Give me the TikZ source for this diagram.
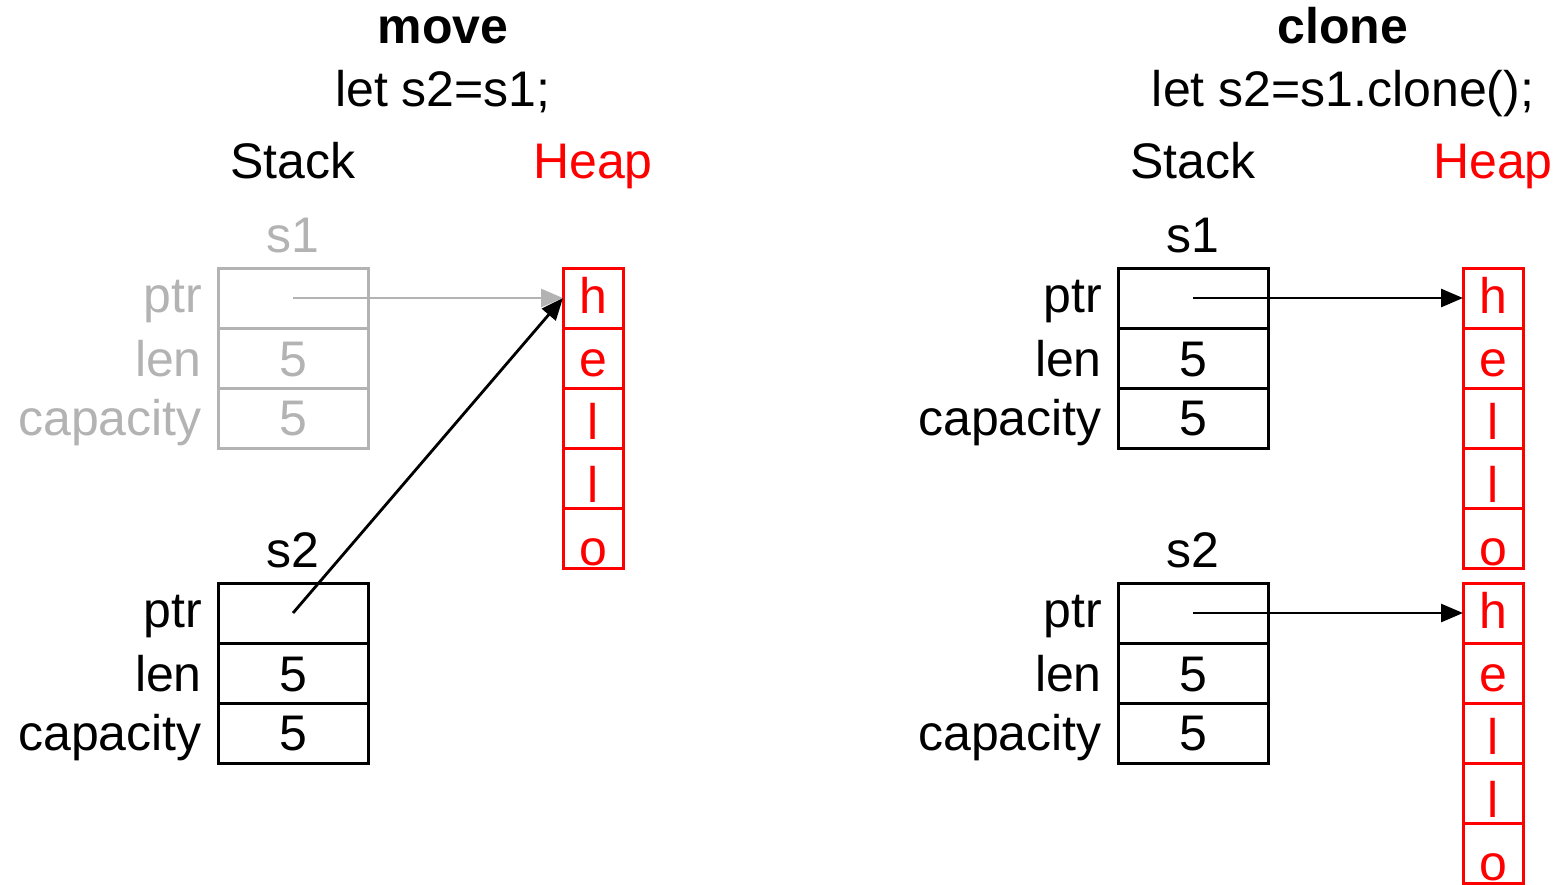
\documentclass[tikz,border=0pt]{standalone}
\usepackage{fontspec}
\setmainfont{Liberation Sans}
\usetikzlibrary{arrows.meta}
\definecolor{faded}{RGB}{179,179,179}
\definecolor{heapred}{RGB}{255,0,0}
\begin{document}
\begin{tikzpicture}[x=1pt,y=-1pt,
  font=\fontsize{50}{60}\selectfont,
  cell/.style={draw, line width=3pt, minimum width=150pt, minimum height=60pt,
               inner sep=0pt, outer sep=0pt},
  hcell/.style={draw=heapred, line width=3pt, minimum width=60pt, minimum height=60pt,
               inner sep=0pt, outer sep=0pt},
  txt/.style={anchor=base, inner sep=0pt},
  lbl/.style={anchor=base east, inner sep=0pt},
  htxt/.style={anchor=base, inner sep=0pt, text=heapred},
  ptrarrow/.style={line width=2.8pt, -{Triangle[length=22pt,width=18pt]}},
]
\useasboundingbox (0,0) rectangle (1562,884);

% ---------------- move ----------------
\node[txt, font=\fontsize{50}{60}\selectfont\bfseries] (mtitle) at (443,43) {move};
\node[txt] (mcode) at (443,106) {let s2=s1;};
\node[txt] (mstack) at (293,178) {Stack};
\node[txt, text=heapred] (mheap) at (593,178) {Heap};

% s1 (moved-from, faded)
\node[txt, text=faded] (ms1) at (293,252) {s1};
\node[cell, draw=faded] (ms1ptr) at (293,298) {};
\node[cell, draw=faded] (ms1len) at (293,358) {};
\node[cell, draw=faded] (ms1cap) at (293,418) {};
\node[lbl, text=faded] (ms1ptrl) at (202,312) {ptr};
\node[lbl, text=faded] (ms1lenl) at (202,376) {len};
\node[lbl, text=faded] (ms1capl) at (202,435) {capacity};
\node[txt, text=faded] (ms1lenv) at (293,376) {5};
\node[txt, text=faded] (ms1capv) at (293,435) {5};

% s2
\node[txt] (ms2) at (293,567) {s2};
\node[cell] (ms2ptr) at (293,613) {};
\node[cell] (ms2len) at (293,673) {};
\node[cell] (ms2cap) at (293,733) {};
\node[lbl] (ms2ptrl) at (202,627) {ptr};
\node[lbl] (ms2lenl) at (202,691) {len};
\node[lbl] (ms2capl) at (202,750) {capacity};
\node[txt] (ms2lenv) at (293,691) {5};
\node[txt] (ms2capv) at (293,750) {5};

% heap buffer
\foreach \ch [count=\i from 0] in {h,e,l,l,o} {
  \node[hcell] (mh\i) at (593,298+60*\i) {};
  \node[htxt] (mht\i) at (593,313+63*\i) {\ch};
}

\draw[ptrarrow, faded] (ms1ptr.center) -- (mh0.west);
\draw[ptrarrow] (ms2ptr.center) -- (mh0.west);

% ---------------- clone ----------------
\node[txt, font=\fontsize{50}{60}\selectfont\bfseries] (ctitle) at (1343,43) {clone};
\node[txt] (ccode) at (1343,106) {let s2=s1.clone();};
\node[txt] (cstack) at (1193,178) {Stack};
\node[txt, text=heapred] (cheap) at (1493,178) {Heap};

% s1
\node[txt] (cs1) at (1193,252) {s1};
\node[cell] (cs1ptr) at (1193,298) {};
\node[cell] (cs1len) at (1193,358) {};
\node[cell] (cs1cap) at (1193,418) {};
\node[lbl] (cs1ptrl) at (1102,312) {ptr};
\node[lbl] (cs1lenl) at (1102,376) {len};
\node[lbl] (cs1capl) at (1102,435) {capacity};
\node[txt] (cs1lenv) at (1193,376) {5};
\node[txt] (cs1capv) at (1193,435) {5};

% s2
\node[txt] (cs2) at (1193,567) {s2};
\node[cell] (cs2ptr) at (1193,613) {};
\node[cell] (cs2len) at (1193,673) {};
\node[cell] (cs2cap) at (1193,733) {};
\node[lbl] (cs2ptrl) at (1102,627) {ptr};
\node[lbl] (cs2lenl) at (1102,691) {len};
\node[lbl] (cs2capl) at (1102,750) {capacity};
\node[txt] (cs2lenv) at (1193,691) {5};
\node[txt] (cs2capv) at (1193,750) {5};

% two separate heap buffers
\foreach \ch [count=\i from 0] in {h,e,l,l,o} {
  \node[hcell] (ch\i) at (1493,298+60*\i) {};
  \node[htxt] (cht\i) at (1493,313+63*\i) {\ch};
  \node[hcell] (cg\i) at (1493,613+60*\i) {};
  \node[htxt] (cgt\i) at (1493,628+63*\i) {\ch};
}

\draw[ptrarrow] (cs1ptr.center) -- (ch0.west);
\draw[ptrarrow] (cs2ptr.center) -- (cg0.west);
\end{tikzpicture}
\end{document}
